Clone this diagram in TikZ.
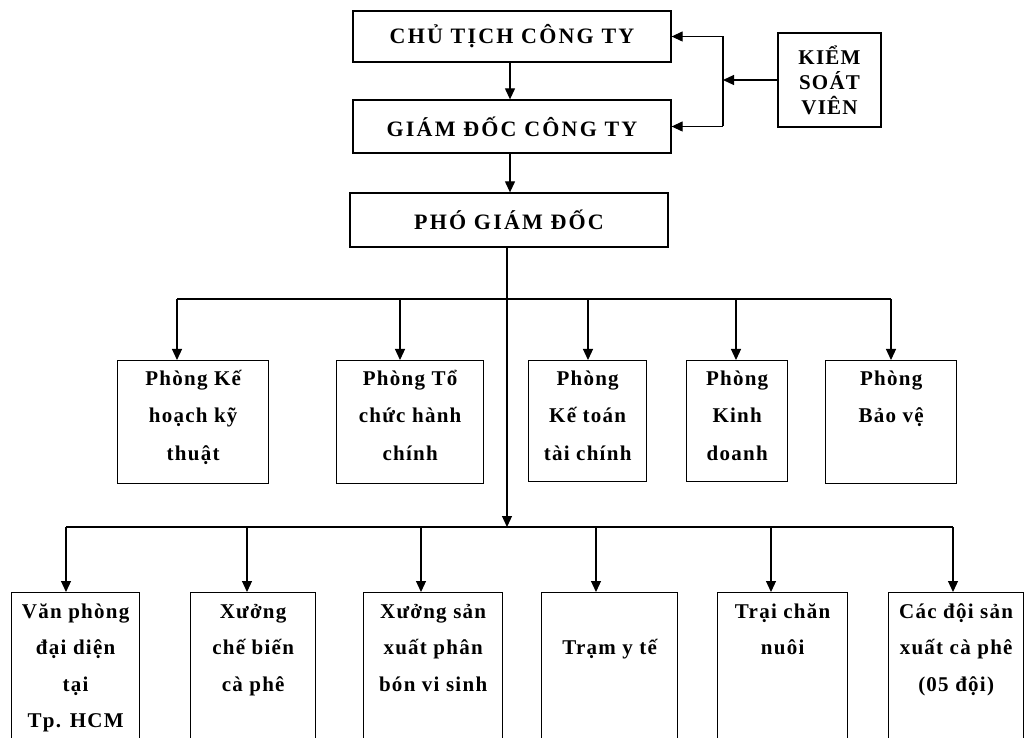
\documentclass[tikz,border=0pt]{standalone}
\usepackage{fontspec}
\setmainfont{Liberation Serif}
\newfontfamily\vnfont[LetterSpace=6]{Liberation Serif}
\newfontfamily\vntop[LetterSpace=10]{Liberation Serif}
\usetikzlibrary{arrows.meta}
\begin{document}
\begin{tikzpicture}[x=1pt,y=-1pt,
  box/.style={draw,line width=1.3pt,inner sep=0pt,fill=white},
  ln/.style={line width=1.2pt},
  arr/.style={line width=1.2pt,-{Triangle[length=11pt,width=10pt]}},
  toptxt/.style={font=\vntop\bfseries\fontsize{22}{25}\selectfont,align=center},
  midtxt/.style={font=\vnfont\bfseries\fontsize{21}{37.5}\selectfont,align=center,inner sep=0pt,anchor=north},
  bottxt/.style={font=\vnfont\bfseries\fontsize{21}{36.5}\selectfont,align=center,inner sep=0pt,anchor=north}]
\clip (0,0) rectangle (1029,738);
\fill[white] (0,0) rectangle (1029,738);

% top boxes
\node[box,toptxt,minimum width=318pt,minimum height=51pt] (chu) at (512,36.5) {CHỦ TỊCH CÔNG TY};
\node[box,toptxt,minimum width=318pt,minimum height=53pt] (giam) at (512,126.5) {GIÁM ĐỐC CÔNG TY};
\node[box,toptxt,minimum width=318pt,minimum height=54pt] (pho) at (509,220) {PHÓ GIÁM ĐỐC};
\node[box,toptxt,font=\vnfont\bfseries\fontsize{21}{25}\selectfont,minimum width=103pt,minimum height=94pt] (kiem) at (829.5,80) {KIỂM\\SOÁT\\VIÊN};

\coordinate (vx) at (723,80);
\coordinate (x1) at (510,0);
\draw[arr] (chu.south -| x1) -- (giam.north -| x1);
\draw[arr] (giam.south -| x1) -- (pho.north -| x1);
\draw[ln] (vx |- chu.east) -- (vx |- giam.east);
\draw[arr] (vx |- chu.east) -- (chu.east);
\draw[arr] (vx |- giam.east) -- (giam.east);
\draw[arr] (kiem.west) -- (vx);

% middle boxes
\node[box,minimum width=151pt,minimum height=123pt,anchor=north west] (m1) at (117,360) {};
\node[box,minimum width=147pt,minimum height=123pt,anchor=north west] (m2) at (336,360) {};
\node[box,minimum width=118pt,minimum height=121pt,anchor=north west] (m3) at (528,360) {};
\node[box,minimum width=101pt,minimum height=121pt,anchor=north west] (m4) at (686,360) {};
\node[box,minimum width=131pt,minimum height=123pt,anchor=north west] (m5) at (825,360) {};

\node[midtxt] (m1t) at ([yshift=-5pt]m1.north) {\rule{0pt}{20pt}Phòng Kế\\hoạch kỹ\\thuật};
\node[midtxt] (m2t) at ([yshift=-5pt]m2.north) {\rule{0pt}{20pt}Phòng Tổ\\chức hành\\chính};
\node[midtxt] (m3t) at ([yshift=-5pt]m3.north) {\rule{0pt}{20pt}Phòng\\Kế toán\\tài chính};
\node[midtxt] (m4t) at ([yshift=-5pt]m4.north) {\rule{0pt}{20pt}Phòng\\Kinh\\doanh};
\node[midtxt] (m5t) at ([yshift=-5pt]m5.north) {\rule{0pt}{20pt}Phòng\\Bảo vệ};

\coordinate (a1) at (177,299);
\coordinate (a2) at (400,299);
\coordinate (a3) at (588,299);
\coordinate (a4) at (736,299);
\coordinate (a5) at (891,299);
\draw[ln] (a1) -- (a5);
\draw[arr] (a1) -- (a1 |- m1.north);
\draw[arr] (a2) -- (a2 |- m2.north);
\draw[arr] (a3) -- (a3 |- m3.north);
\draw[arr] (a4) -- (a4 |- m4.north);
\draw[arr] (a5) -- (a5 |- m5.north);

% bottom boxes
\node[box,minimum width=128pt,minimum height=170pt,anchor=north west] (b1) at (11,592) {};
\node[box,minimum width=125pt,minimum height=170pt,anchor=north west] (b2) at (190,592) {};
\node[box,minimum width=139pt,minimum height=170pt,anchor=north west] (b3) at (363,592) {};
\node[box,minimum width=136pt,minimum height=170pt,anchor=north west] (b4) at (541,592) {};
\node[box,minimum width=130pt,minimum height=170pt,anchor=north west] (b5) at (717,592) {};
\node[box,minimum width=135pt,minimum height=170pt,anchor=north west] (b6) at (888,592) {};

\node[bottxt] (b1t) at ([yshift=-6pt]b1.north) {\rule{0pt}{20pt}Văn phòng\\đại diện\\tại\\Tp. HCM};
\node[bottxt] (b2t) at ([yshift=-6pt]b2.north) {\rule{0pt}{20pt}Xưởng\\chế biến\\cà phê};
\node[bottxt] (b3t) at ([yshift=-6pt]b3.north) {\rule{0pt}{20pt}Xưởng sản\\xuất phân\\bón vi sinh};
\node[bottxt] (b4t) at ([yshift=-6pt]b4.north) {\rule{0pt}{20pt}\\Trạm y tế};
\node[bottxt] (b5t) at ([yshift=-6pt]b5.north) {\rule{0pt}{20pt}Trại chăn\\nuôi};
\node[bottxt] (b6t) at ([yshift=-6pt]b6.north) {\rule{0pt}{20pt}Các đội sản\\xuất cà phê\\(05 đội)};

\coordinate (c1) at (66,527);
\coordinate (c2) at (247,527);
\coordinate (c3) at (421,527);
\coordinate (c4) at (596,527);
\coordinate (c5) at (771,527);
\coordinate (c6) at (953,527);
\coordinate (cm) at (507,527);
\draw[ln] (c1) -- (c6);
\draw[arr] (pho.south -| cm) -- (cm);
\draw[arr] (c1) -- (c1 |- b1.north);
\draw[arr] (c2) -- (c2 |- b2.north);
\draw[arr] (c3) -- (c3 |- b3.north);
\draw[arr] (c4) -- (c4 |- b4.north);
\draw[arr] (c5) -- (c5 |- b5.north);
\draw[arr] (c6) -- (c6 |- b6.north);
\end{tikzpicture}
\end{document}
